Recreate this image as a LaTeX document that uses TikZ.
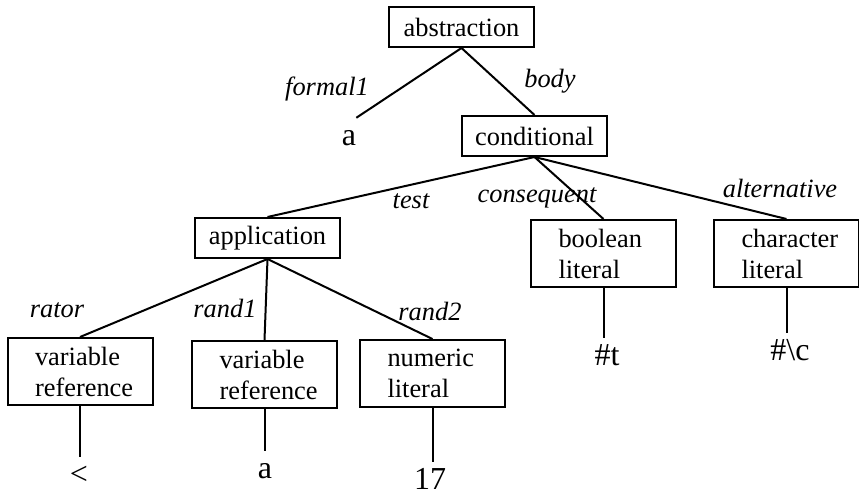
\documentclass[tikz,border=0pt]{standalone}
\usepackage{fontspec}
\setmainfont{Liberation Serif}
\usepackage{tikz}
\tikzstyle{pixelGrid} = [x = 1pt, y = -1pt]
\newcommand{\treeFont}{\fontsize{26.4}{31}\selectfont}
\newcommand{\leafFont}{\fontsize{32}{36}\selectfont}
\tikzstyle{treeLine} = [color=black, line width = 2pt]
\tikzstyle{kindBox} = [draw, line width = 2pt, minimum width = 145pt, minimum height = 40pt, inner sep = 0pt, font = \treeFont]
\tikzstyle{kindBoxTall} = [kindBox, minimum height = 67pt, text width = 90pt, align = left]
\tikzstyle{edgeLabel} = [font = \treeFont\itshape, anchor = base, inner sep = 0pt]
\tikzstyle{leafText} = [font = \leafFont, anchor = base, inner sep = 0pt, text height = 27pt]

\begin{document}
\begin{tikzpicture}[pixelGrid]
  \useasboundingbox (0,0) rectangle (859,495);
  % boxes
  \node [kindBox] (abstraction) at (461.5,27) {abstraction};
  \node [kindBox] (conditional) at (534.5,136) {conditional};
  \node [kindBox] (application) at (267.5,238) {application};
  \node [kindBoxTall] (booleanLit) at (603.5,253.5) {boolean\\literal};
  \node [kindBoxTall] (characterLit) at (786.5,253.5) {character\\literal};
  \node [kindBoxTall] (ratorRef) at (80,371.5) {variable\\reference};
  \node [kindBoxTall] (randRef) at (264.5,374.5) {variable\\reference};
  \node [kindBoxTall] (numericLit) at (432.5,373.5) {numeric\\literal};
  % leaves
  \node [leafText] (formalLeaf) at (349,145) {a};
  \node [leafText] (trueLeaf) at (607,365) {\#t};
  \node [leafText] (charLeaf) at (790,360) {\#\textbackslash c};
  \node [leafText] (lessLeaf) at (79,484) {<};
  \node [leafText] (argLeaf) at (265,478) {a};
  \node [leafText] (numLeaf) at (430,489) {17};
  % edge labels
  \node [edgeLabel] (formalLabel) at (327,95) {formal1};
  \node [edgeLabel] (bodyLabel) at (550,88) {body};
  \node [edgeLabel] (testLabel) at (411,208) {test};
  \node [edgeLabel] (consequentLabel) at (537,202) {consequent};
  \node [edgeLabel] (alternativeLabel) at (780,197) {alternative};
  \node [edgeLabel] (ratorLabel) at (57,317) {rator};
  \node [edgeLabel] (randOneLabel) at (225,317) {rand1};
  \node [edgeLabel] (randTwoLabel) at (430,320) {rand2};
  % connectors
  \draw [treeLine] (abstraction.south) -- (formalLeaf.north east);
  \draw [treeLine] (abstraction.south) -- (conditional.north);
  \draw [treeLine] (conditional.south) -- (application.north);
  \draw [treeLine] (conditional.south) -- (booleanLit.north);
  \draw [treeLine] (conditional.south) -- (characterLit.north);
  \draw [treeLine] (application.south) -- (ratorRef.north);
  \draw [treeLine] (application.south) -- (randRef.north);
  \draw [treeLine] (application.south) -- (numericLit.north);
  \draw [treeLine] (booleanLit.south) -- (booleanLit.south |- trueLeaf.north);
  \draw [treeLine] (characterLit.south) -- (characterLit.south |- charLeaf.north);
  \draw [treeLine] (ratorRef.south) -- (ratorRef.south |- lessLeaf.north);
  \draw [treeLine] (randRef.south) -- (randRef.south |- argLeaf.north);
  \draw [treeLine] (numericLit.south) -- (numericLit.south |- numLeaf.north);
\end{tikzpicture}
\end{document}
